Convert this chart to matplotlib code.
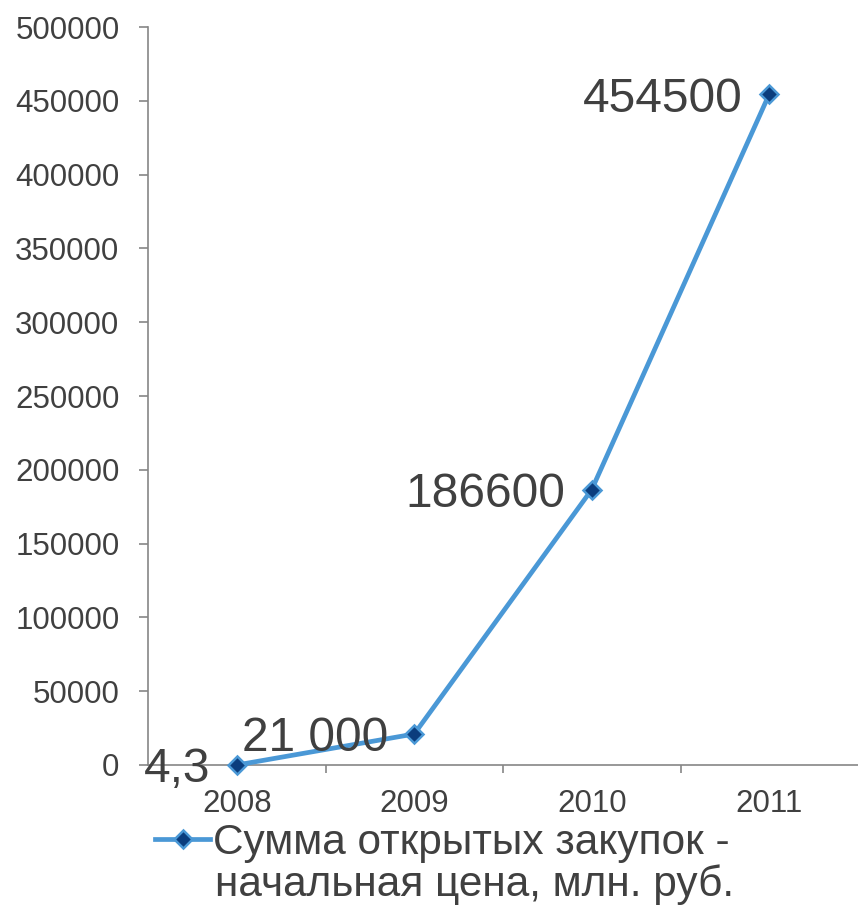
import matplotlib
matplotlib.use("Agg")
import matplotlib.pyplot as plt
from matplotlib.lines import Line2D
from matplotlib.ticker import MultipleLocator, FixedLocator

years = ["2008", "2009", "2010", "2011"]
values = [4.3, 21000, 186600, 454500]
value_labels = ["4,3", "21 000", "186600", "454500"]
legend_line1 = "Сумма открытых закупок -"
legend_line2 = "начальная цена, млн. руб."

TXT = "#404040"
AX = "#868686"
LINE = "#4A98D6"
FACE = "#0B3D7D"

plt.rcParams['font.family'] = ['Liberation Sans', 'DejaVu Sans']

fig = plt.figure(figsize=(8.58, 9.14), dpi=100)
ax = fig.add_axes([148/858, 149/914, 710/858, (765-27)/914])

x = list(range(len(years)))
ax.plot(x, values, color=LINE, lw=3.4, marker='D', markersize=9,
        markerfacecolor=FACE, markeredgecolor=LINE, markeredgewidth=1.8,
        solid_joinstyle='round', clip_on=False, zorder=3)

for xi, v, lab in zip(x, values, value_labels):
    ax.annotate(lab, (xi, v), xytext=(-19, -3.5), textcoords='offset points',
                ha='right', va='center', fontsize=34.5, color=TXT, zorder=4)

ax.set_xlim(-0.5, 3.5)
ax.set_ylim(0, 500000)
ax.yaxis.set_major_locator(MultipleLocator(50000))
ax.set_xticks(x)
ax.set_xticklabels(years)
ax.xaxis.set_minor_locator(FixedLocator([0.5, 1.5, 2.5]))

for s in ['top', 'right']:
    ax.spines[s].set_visible(False)
for s in ['left', 'bottom']:
    ax.spines[s].set_color(AX)
    ax.spines[s].set_linewidth(1.2)

ax.tick_params(axis='y', length=6.5, width=1.2, color=AX, pad=14, labelsize=22.5, labelcolor=TXT)
ax.tick_params(axis='x', which='major', length=0, pad=17, labelsize=22.5, labelcolor=TXT)
ax.tick_params(axis='x', which='minor', length=6, width=1.2, color=AX, direction='out')
ax.yaxis.set_major_formatter(matplotlib.ticker.FuncFormatter(lambda v, p: f"{int(v)}"))

handle = Line2D([], [], color=LINE, lw=3.4, marker='D', markersize=9,
                markerfacecolor=FACE, markeredgecolor=LINE, markeredgewidth=1.8)
leg = fig.legend([handle], [legend_line1], loc='center left',
                 bbox_to_anchor=(155/858, 1 - 843/914), frameon=False,
                 fontsize=30.5, handlelength=1.3, handletextpad=0.07,
                 borderaxespad=0, borderpad=0)
for t in leg.get_texts():
    t.set_color(TXT)
fig.text(215/858, 1 - 885/914, legend_line2, fontsize=30.5, color=TXT,
         ha='left', va='center')

fig.savefig("out.png", dpi=100)
